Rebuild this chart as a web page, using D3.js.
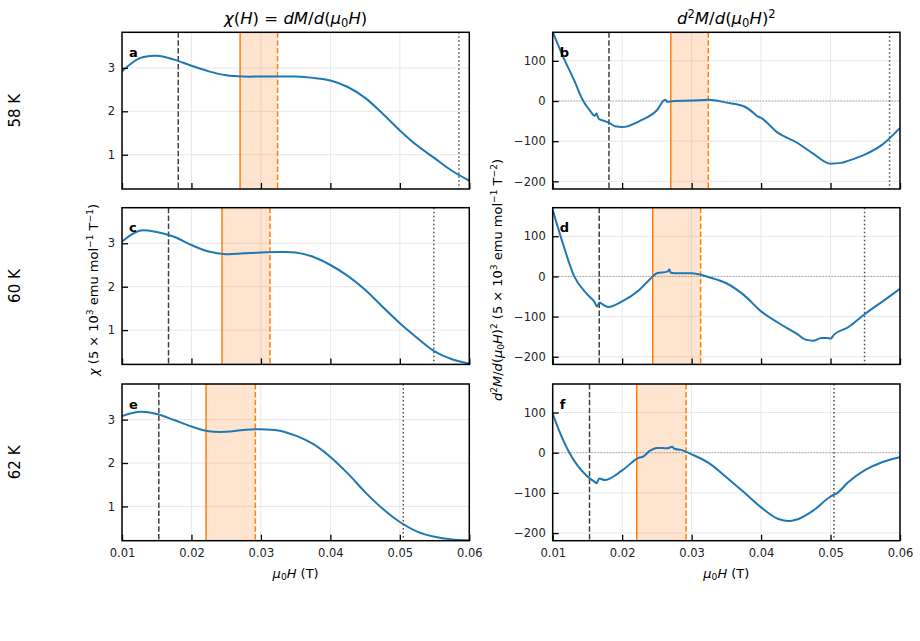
<!DOCTYPE html>
<html><head><meta charset="utf-8">
<script src="https://cdn.jsdelivr.net/npm/d3@7"></script>
<style>
body{margin:0;background:#fff}
text{font-family:"DejaVu Sans",sans-serif}
</style>
</head><body><svg id="chart" width="920" height="641"></svg>
<script>
// ---------------- DATA ----------------
const fieldGrid = [0.0100,0.0125,0.0150,0.0175,0.0200,0.0225,0.0250,0.0275,0.0300,0.0325,0.0350,0.0375,0.0400,0.0425,0.0450,0.0475,0.0500,0.0525,0.0550,0.0575,0.0600];
const chi58 = [2.92,3.22,3.28,3.19,3.05,2.92,2.83,2.80,2.80,2.80,2.80,2.77,2.71,2.56,2.31,1.95,1.56,1.21,0.92,0.63,0.40];
const chi60 = [3.04,3.29,3.26,3.15,2.96,2.81,2.75,2.77,2.79,2.80,2.79,2.69,2.50,2.25,1.93,1.54,1.16,0.82,0.51,0.33,0.23];
const chi62 = [3.08,3.18,3.13,2.99,2.84,2.73,2.72,2.76,2.78,2.75,2.63,2.44,2.14,1.76,1.33,0.95,0.64,0.42,0.30,0.24,0.22];

const field58d2 = [0.0100,0.0115,0.0130,0.0144,0.0155,0.0160,0.0163,0.0166,0.0175,0.0182,0.0190,0.0200,0.0225,0.0250,0.0262,0.0265,0.0275,0.0300,0.0325,0.0350,0.0375,0.0390,0.0393,0.0400,0.0425,0.0450,0.0475,0.0500,0.0515,0.0525,0.0550,0.0575,0.0600];
const d2M58 = [172,110,55,0,-27,-37,-31,-44,-50,-55,-63,-65,-50,-23,3,-2,0,1,3,-4,-13,-31,-36,-42,-80,-102,-131,-156,-154,-149,-133,-108,-67];
const field60d2 = [0.0100,0.0115,0.0131,0.0150,0.0160,0.0164,0.0167,0.0175,0.0180,0.0200,0.0225,0.0240,0.0250,0.0265,0.0268,0.0270,0.0275,0.0300,0.0325,0.0350,0.0375,0.0400,0.0425,0.0450,0.0465,0.0475,0.0487,0.0495,0.0500,0.0505,0.0525,0.0550,0.0575,0.0600];
const d2M60 = [166,80,0,-45,-63,-75,-65,-73,-76,-62,-33,-7,8,12,17,9,8,8,-2,-17,-46,-87,-116,-141,-158,-160,-153,-153,-155,-145,-127,-93,-62,-31];
const field62d2 = [0.0100,0.0110,0.0124,0.0150,0.0160,0.0163,0.0167,0.0175,0.0200,0.0225,0.0230,0.0240,0.0250,0.0265,0.0272,0.0275,0.0285,0.0300,0.0325,0.0350,0.0375,0.0400,0.0425,0.0440,0.0450,0.0475,0.0500,0.0510,0.0525,0.0550,0.0575,0.0600];
const d2M62 = [97,52,0,-59,-72,-76,-64,-68,-44,-12,-10,5,12,11,15,10,7,-4,-26,-61,-98,-136,-165,-170,-167,-144,-109,-100,-74,-43,-23,-11];

// marker fields: [black dashed, orange solid, orange dashed, black dotted]
const markers58 = [0.0181,0.0270,0.0324,0.0585];
const markers60 = [0.0167,0.0244,0.0313,0.0549];
const markers62 = [0.0153,0.0221,0.0292,0.0505];

const rowLabels = ["58 K","60 K","62 K"];
const panelLetters = [["a","b"],["c","d"],["e","f"]];
const xTicks = [0.01,0.02,0.03,0.04,0.05,0.06];
const chiTicks = [1,2,3];
const d2Ticks = [-200,-100,0,100];

// ---------------- LAYOUT ----------------
const svg = d3.select("#chart");
const colX = [[122,469.3],[552.7,900]];
const rowTop = [32.3,207.7,384];
const panelH = 156.7;
const BLUE="#1f77b4", ORANGE="#ff7f0e";
const tickFont = 11.5;

const xScales = colX.map(c => d3.scaleLinear().domain([0.01,0.06]).range(c));
const chiDomain=[0.21,3.82], d2Domain=[-219,171];

function rich(textSel, parts, size){
  let shift = 0;
  parts.forEach(([s,k])=>{
    const t = textSel.append("tspan").text(s);
    let target=0, fs=size;
    if(k==="sup"){target=-0.38*size; fs=0.7*size;}
    if(k==="sub"){target=0.18*size; fs=0.7*size;}
    t.attr("font-size",fs);
    if(k==="i") t.attr("font-style","italic");
    const dy = target-shift;
    if(dy!==0) t.attr("dy",dy);
    shift=target;
  });
}

const rows = [
  {chi:chi58, f2:field58d2, d2:d2M58, m:markers58},
  {chi:chi60, f2:field60d2, d2:d2M60, m:markers60},
  {chi:chi62, f2:field62d2, d2:d2M62, m:markers62}
];

rows.forEach((row,ri)=>{
  const top=rowTop[ri], bot=top+panelH;
  [0,1].forEach(ci=>{
    const x = xScales[ci];
    const y = d3.scaleLinear().domain(ci===0?chiDomain:d2Domain).range([bot,top]);
    const yTicks = ci===0?chiTicks:d2Ticks;
    const g = svg.append("g");
    const cid = `clip${ri}${ci}`;
    svg.append("clipPath").attr("id",cid).append("rect")
      .attr("x",colX[ci][0]).attr("y",top).attr("width",colX[ci][1]-colX[ci][0]).attr("height",panelH);
    const inner = g.append("g").attr("clip-path",`url(#${cid})`);
    // grid
    inner.selectAll(".gx").data(xTicks).join("line")
      .attr("x1",d=>x(d)).attr("x2",d=>x(d)).attr("y1",top).attr("y2",bot)
      .attr("stroke","#e8e8e8").attr("stroke-width",1);
    inner.selectAll(".gy").data(yTicks).join("line")
      .attr("x1",colX[ci][0]).attr("x2",colX[ci][1]).attr("y1",d=>y(d)).attr("y2",d=>y(d))
      .attr("stroke","#e8e8e8").attr("stroke-width",1);
    // shaded band
    inner.append("rect").attr("x",x(row.m[1])).attr("y",top)
      .attr("width",x(row.m[2])-x(row.m[1])).attr("height",panelH)
      .attr("fill",ORANGE).attr("fill-opacity",0.2);
    // zero line
    if(ci===1){
      inner.append("line").attr("x1",colX[ci][0]).attr("x2",colX[ci][1])
        .attr("y1",y(0)).attr("y2",y(0)).attr("stroke","#777").attr("stroke-width",0.9)
        .attr("stroke-dasharray","1,2");
    }
    // vertical markers
    const vstyle=[["#404040","5.5,2.4"],[ORANGE,null],[ORANGE,"5.5,2.4"],["#505050","1.5,2.5"]];
    row.m.forEach((v,i)=>{
      const l=inner.append("line").attr("x1",x(v)).attr("x2",x(v)).attr("y1",top).attr("y2",bot)
        .attr("stroke",vstyle[i][0]).attr("stroke-width",1.5);
      if(vstyle[i][1]) l.attr("stroke-dasharray",vstyle[i][1]);
    });
    // curve
    const xs = ci===0?fieldGrid:row.f2;
    const ys = ci===0?row.chi:row.d2;
    const pts = xs.map((v,i)=>[v,ys[i]]);
    inner.append("path").datum(pts)
      .attr("d", d3.line().x(d=>x(d[0])).y(d=>y(d[1]))
        .curve(ci===0?d3.curveCatmullRom.alpha(0.5):d3.curveMonotoneX))
      .attr("fill","none").attr("stroke",BLUE).attr("stroke-width",2);
    // axes
    const ax = g.append("g").attr("transform",`translate(0,${bot})`)
      .call(d3.axisBottom(x).tickValues(xTicks).tickSizeInner(-6).tickSizeOuter(0).tickPadding(8)
        .tickFormat(ri===2?d3.format(".2f"):()=>""));
    const ay = g.append("g").attr("transform",`translate(${colX[ci][0]},0)`)
      .call(d3.axisLeft(y).tickValues(yTicks).tickSizeInner(-6).tickSizeOuter(0).tickPadding(7)
        .tickFormat(d3.format("d")));
    [ax,ay].forEach(a=>{
      a.select(".domain").remove();
      a.selectAll(".tick line").attr("stroke","#000").attr("stroke-width",1.3);
      a.selectAll(".tick text").attr("font-size",tickFont).attr("fill","#222")
        .attr("font-family","DejaVu Sans");
    });
    // spines
    g.append("rect").attr("x",colX[ci][0]).attr("y",top)
      .attr("width",colX[ci][1]-colX[ci][0]).attr("height",panelH)
      .attr("fill","none").attr("stroke","#000").attr("stroke-width",1.5);
    // panel letter
    g.append("text").attr("x",colX[ci][0]+7).attr("y",top+24.5)
      .attr("font-size",13).attr("font-weight","bold").attr("fill","#000")
      .text(panelLetters[ri][ci]);
  });
  // row label
  svg.append("text").attr("transform",`translate(19.5,${top+panelH/2}) rotate(-90)`)
    .attr("text-anchor","middle").attr("font-size",15).attr("fill","#000").text(rowLabels[ri]);
});

// titles
const midL=(colX[0][0]+colX[0][1])/2, midR=(colX[1][0]+colX[1][1])/2;
rich(svg.append("text").attr("x",midL).attr("y",24).attr("text-anchor","middle").attr("fill","#000"),
  [["χ","i"],["(","n"],["H","i"],[") = ","n"],["dM","i"],["/","n"],["d","i"],["(","n"],["μ","i"],["0","sub"],["H","i"],[")","n"]],16.5);
rich(svg.append("text").attr("x",midR).attr("y",24).attr("text-anchor","middle").attr("fill","#000"),
  [["d","i"],["2","sup"],["M","i"],["/","n"],["d","i"],["(","n"],["μ","i"],["0","sub"],["H","i"],[")","n"],["2","sup"]],16.5);

// x labels
[midL,midR].forEach(m=>{
  rich(svg.append("text").attr("x",m).attr("y",578).attr("text-anchor","middle").attr("fill","#000"),
    [["μ","i"],["0","sub"],["H","i"],[" (T)","n"]],13);
});

// y labels
rich(svg.append("text").attr("transform",`translate(97.5,290) rotate(-90)`).attr("text-anchor","middle").attr("fill","#000"),
  [["χ","i"],[" (5 × 10","n"],["3","sup"],[" emu mol","n"],["−1","sup"],[" T","n"],["−1","sup"],[")","n"]],13);
rich(svg.append("text").attr("transform",`translate(501.5,280) rotate(-90)`).attr("text-anchor","middle").attr("fill","#000"),
  [["d","i"],["2","sup"],["M","i"],["/","n"],["d","i"],["(","n"],["μ","i"],["0","sub"],["H","i"],[")","n"],["2","sup"],[" (5 × 10","n"],["3","sup"],[" emu mol","n"],["−1","sup"],[" T","n"],["−2","sup"],[")","n"]],13);
</script>
</body></html>
